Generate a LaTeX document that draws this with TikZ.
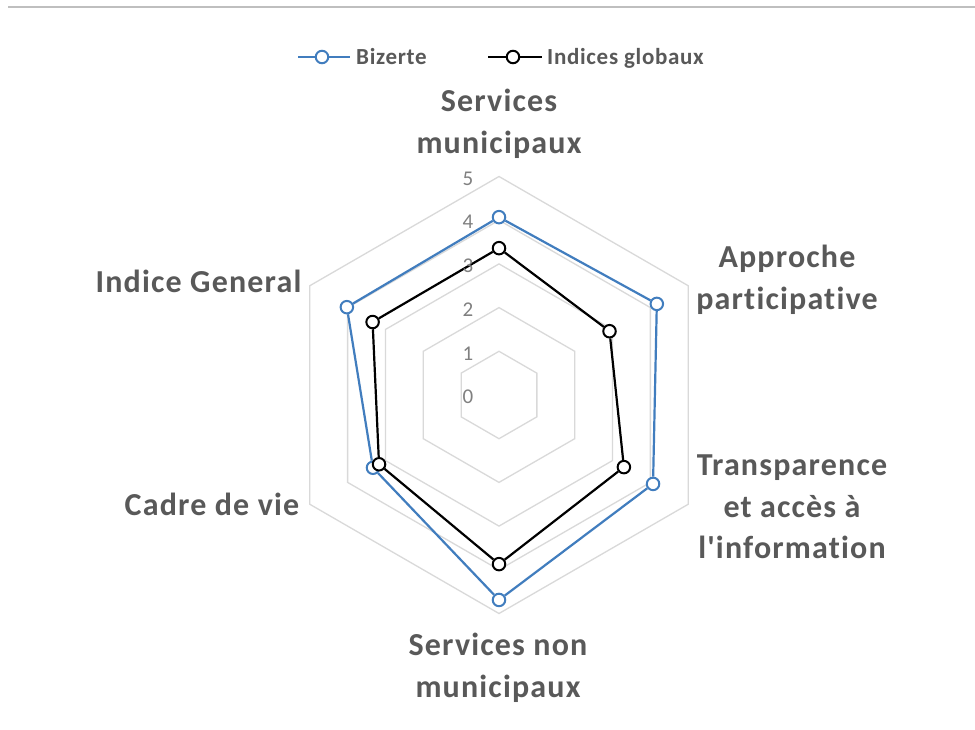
\documentclass[tikz,border=0pt]{standalone}
\usepackage{fontspec}
\setmainfont{Carlito}
\newfontfamily\carl{Carlito}[Ligatures=NoCommon]
\definecolor{bizblue}{RGB}{65,125,190}
\definecolor{labgray}{RGB}{89,89,89}
\definecolor{tickgray}{RGB}{128,128,128}
\definecolor{gridgray}{RGB}{217,217,217}
\definecolor{framegray}{RGB}{191,191,191}
\tikzset{
  gridring/.style={draw=gridgray, line width=1.3pt},
  serieslineblue/.style={draw=bizblue, line width=2.2pt, line join=miter},
  serieslineblack/.style={draw=black, line width=2.2pt, line join=miter},
  markblue/.style={circle, draw=bizblue, fill=white, line width=2pt, minimum size=12.5pt, inner sep=0pt},
  markblack/.style={circle, draw=black, fill=white, line width=2pt, minimum size=12.5pt, inner sep=0pt},
  axislabel/.style={font=\carl\fontsize{32}{41.5}\selectfont\bfseries\addfontfeatures{LetterSpace=3.7}, text=labgray, align=center, inner sep=0pt},
  ticklabel/.style={font=\carl\fontsize{21}{24}\selectfont, text=tickgray, inner sep=0pt},
  legendtext/.style={font=\carl\fontsize{23}{27}\selectfont\bfseries\addfontfeatures{LetterSpace=3}, text=labgray, inner sep=0pt, anchor=base west},
}
\begin{document}
\begin{tikzpicture}[x=1pt, y=-1pt]
\useasboundingbox (0,0) rectangle (975,730);
\fill[white] (0,0) rectangle (975,730);
% top frame line
\coordinate (fl) at (8,7);
\coordinate (fr) at (975,7);
\draw[framegray, line width=1.2pt] (fl) -- (fr);
% grid rings
\begin{scope}[shift={(499,395)}]
\coordinate (ctr) at (0,0);
\foreach \k in {1,...,5}{
  \draw[gridring] (-90:43.7*\k) -- (-30:43.7*\k) -- (30:43.7*\k) -- (90:43.7*\k) -- (150:43.7*\k) -- (210:43.7*\k) -- cycle;
}
% Bizerte series
\node[markblue] (b1) at (-90:43.7*4.07) {};
\node[markblue] (b2) at (-30:43.7*4.17) {};
\node[markblue] (b3) at (30:43.7*4.07) {};
\node[markblue] (b4) at (90:43.7*4.69) {};
\node[markblue] (b5) at (150:43.7*3.33) {};
\node[markblue] (b6) at (210:43.7*4.02) {};
\draw[serieslineblue] (b1) -- (b2) -- (b3) -- (b4) -- (b5) -- (b6) -- (b1);
% Indices globaux series
\node[markblack] (g1) at (-90:43.7*3.36) {};
\node[markblack] (g2) at (-30:43.7*2.92) {};
\node[markblack] (g3) at (30:43.7*3.30) {};
\node[markblack] (g4) at (90:43.7*3.87) {};
\node[markblack] (g5) at (150:43.7*3.17) {};
\node[markblack] (g6) at (210:43.7*3.34) {};
\draw[serieslineblack] (g1) -- (g2) -- (g3) -- (g4) -- (g5) -- (g6) -- (g1);
\end{scope}
% tick labels
\foreach \k in {0,...,5}{
  \node[ticklabel] (t\k) at (468, 397-43.7*\k) {\k};
}
% axis labels
\node[axislabel, anchor=north] (lab1) at (499,89) {Services\\municipaux};
\node[axislabel, anchor=north] (lab2) at (787,245) {Approche\\participative};
\node[axislabel, anchor=north] (lab3) at (792,455) {Transparence\\et accès à\\l'information};
\node[axislabel, anchor=north] (lab4) at (498,633) {Services non\\municipaux};
\node[axislabel, anchor=base] (lab5) at (212,515) {Cadre de vie};
\node[axislabel, anchor=base] (lab6) at (198.5,292) {Indice General};
% legend
\coordinate (lb1) at (298,57);
\coordinate (lb2) at (350,57);
\draw[bizblue, line width=2.2pt] (lb1) -- (lb2);
\node[markblue] (lbm) at (322,57) {};
\node[legendtext] (lbt) at (356,65) {Bizerte};
\coordinate (lk1) at (488,57);
\coordinate (lk2) at (542,57);
\draw[black, line width=2.2pt] (lk1) -- (lk2);
\node[markblack] (lkm) at (513,57) {};
\node[legendtext] (lkt) at (547,65) {Indices globaux};
\end{tikzpicture}
\end{document}
